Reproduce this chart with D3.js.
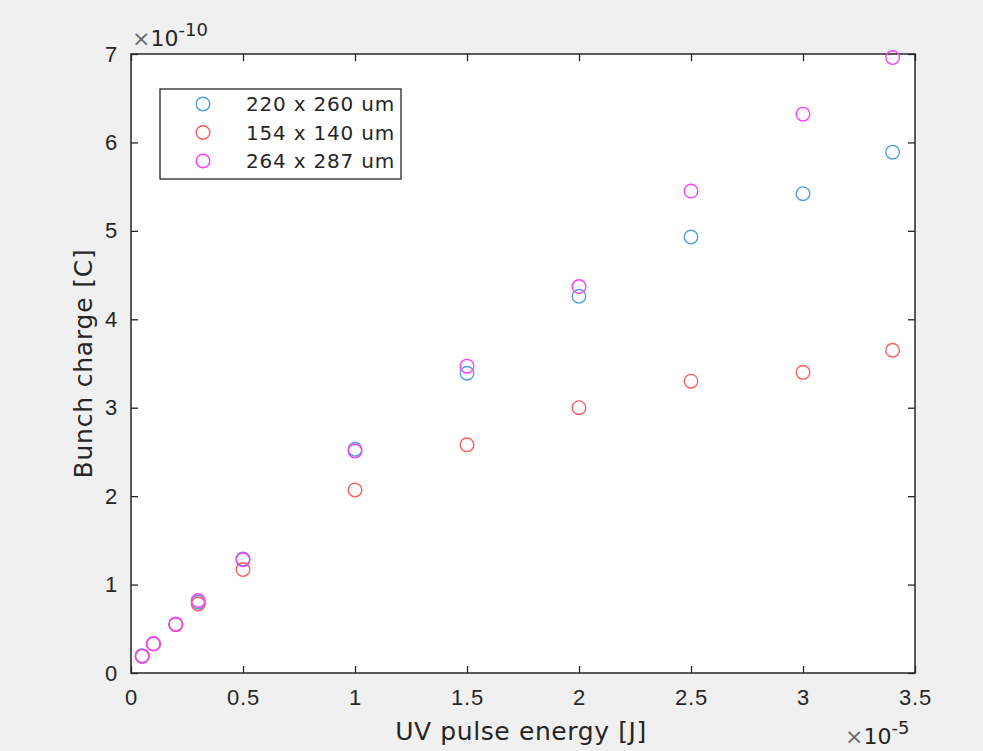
<!DOCTYPE html>
<html>
<head>
<meta charset="utf-8">
<script src="https://cdn.jsdelivr.net/npm/d3@7"></script>
<style>
  html, body { margin: 0; padding: 0; background: #f0f0f0; }
  svg { display: block; font-family: "DejaVu Sans", sans-serif; }
</style>
</head>
<body>
<svg id="chart" width="983" height="751"></svg>
<script>
// UV pulse energy [J] for each measurement
const energy = [0.05e-5, 0.1e-5, 0.2e-5, 0.3e-5, 0.5e-5, 1.0e-5, 1.5e-5, 2.0e-5, 2.5e-5, 3.0e-5, 3.4e-5];

// Bunch charge [C] per laser spot size
const charge220x260 = [0.196e-10, 0.33e-10, 0.55e-10, 0.80e-10, 1.29e-10, 2.53e-10, 3.39e-10, 4.26e-10, 4.93e-10, 5.42e-10, 5.89e-10];
const charge154x140 = [0.19e-10, 0.33e-10, 0.55e-10, 0.78e-10, 1.17e-10, 2.07e-10, 2.58e-10, 3.00e-10, 3.30e-10, 3.40e-10, 3.65e-10];
const charge264x287 = [0.19e-10, 0.33e-10, 0.55e-10, 0.82e-10, 1.28e-10, 2.51e-10, 3.47e-10, 4.37e-10, 5.45e-10, 6.32e-10, 6.96e-10];

const seriesNames = ["220 x 260 um", "154 x 140 um", "264 x 287 um"];
const seriesColors = ["#4f9fdc", "#ff5c5c", "#ff3cff"];

const xTicks = [0, 0.5e-5, 1.0e-5, 1.5e-5, 2.0e-5, 2.5e-5, 3.0e-5, 3.5e-5];
const yTicks = [0, 1e-10, 2e-10, 3e-10, 4e-10, 5e-10, 6e-10, 7e-10];
const xExponent = -5;
const yExponent = -10;

const series = [charge220x260, charge154x140, charge264x287].map((vals, i) => ({
  name: seriesNames[i],
  color: seriesColors[i],
  points: vals.map((v, j) => ({ x: energy[j], y: v }))
}));

const W = 983, H = 751;
const margin = { left: 131, top: 54, right: 68, bottom: 78 };
const iw = W - margin.left - margin.right;
const ih = H - margin.top - margin.bottom;
const axisColor = "#262626";
const textColor = "#262626";

const svg = d3.select("#chart");
svg.append("rect").attr("width", W).attr("height", H).attr("fill", "#f0f0f0");

const g = svg.append("g").attr("transform", `translate(${margin.left},${margin.top})`);

const x = d3.scaleLinear().domain([0, 3.5e-5]).range([0, iw]);
const y = d3.scaleLinear().domain([0, 7e-10]).range([ih, 0]);

// white axes area
g.append("rect").attr("width", iw).attr("height", ih).attr("fill", "#ffffff");

const fmtX = d => d3.format("~g")(+(d / Math.pow(10, xExponent)).toFixed(6));
const fmtY = d => d3.format("~g")(+(d / Math.pow(10, yExponent)).toFixed(6));

const tickLen = 7;

function styleAxis(sel, showLabels) {
  sel.select(".domain").remove();
  sel.selectAll(".tick line").attr("stroke", axisColor).attr("stroke-width", 1.3);
  sel.selectAll(".tick text")
    .attr("fill", textColor)
    .style("font-size", "22px")
    .style("letter-spacing", "0.8px");
  if (!showLabels) sel.selectAll(".tick text").remove();
}

// bottom and top x axes (ticks point inward)
g.append("g").attr("transform", `translate(0,${ih})`)
  .call(d3.axisBottom(x).tickValues(xTicks).tickFormat(fmtX).tickSizeInner(-tickLen).tickPadding(16))
  .call(s => styleAxis(s, true));
g.append("g")
  .call(d3.axisTop(x).tickValues(xTicks).tickSizeInner(-tickLen))
  .call(s => styleAxis(s, false));

// left and right y axes
g.append("g")
  .call(d3.axisLeft(y).tickValues(yTicks).tickFormat(fmtY).tickSizeInner(-tickLen).tickPadding(13))
  .call(s => styleAxis(s, true));
g.append("g").attr("transform", `translate(${iw},0)`)
  .call(d3.axisRight(y).tickValues(yTicks).tickSizeInner(-tickLen))
  .call(s => styleAxis(s, false));

// axes box
g.append("rect").attr("width", iw).attr("height", ih)
  .attr("fill", "none").attr("stroke", axisColor).attr("stroke-width", 1.5);

// scatter markers
series.forEach(s => {
  g.append("g").selectAll("circle").data(s.points).join("circle")
    .attr("cx", d => x(d.x))
    .attr("cy", d => y(d.y))
    .attr("r", 6.8)
    .attr("fill", "none")
    .attr("stroke", s.color)
    .attr("stroke-width", 1.4);
});

// axis labels
svg.append("text")
  .attr("x", margin.left + iw / 2 - 2).attr("y", 740)
  .attr("text-anchor", "middle")
  .attr("fill", textColor)
  .style("font-size", "25px").style("letter-spacing", "0.6px")
  .text("UV pulse energy [J]");

svg.append("text")
  .attr("transform", `translate(92,${margin.top + ih / 2}) rotate(-90)`)
  .attr("text-anchor", "middle")
  .attr("fill", textColor)
  .style("font-size", "25px").style("letter-spacing", "0.8px")
  .text("Bunch charge [C]");

// exponent multipliers
function exponentLabel(xPos, yPos, exp) {
  const t = svg.append("text").attr("x", xPos).attr("y", yPos)
    .attr("fill", textColor).style("font-size", "22px");
  t.append("tspan").attr("fill", "#6a6a6a").text("\u00d7");
  t.append("tspan").text("10");
  t.append("tspan").attr("dy", -10).style("font-size", "18px").text(String(exp));
}
exponentLabel(132, 46, yExponent);
exponentLabel(845, 744, xExponent);

// legend
const lg = svg.append("g").attr("transform", "translate(160,89)");
lg.append("rect").attr("width", 241).attr("height", 90)
  .attr("fill", "#ffffff").attr("stroke", axisColor).attr("stroke-width", 1.3);
series.forEach((s, i) => {
  const cy = 15 + i * 28.5;
  lg.append("circle").attr("cx", 43).attr("cy", cy).attr("r", 6.8)
    .attr("fill", "none").attr("stroke", s.color).attr("stroke-width", 1.4);
  lg.append("text").attr("x", 86).attr("y", cy + 7)
    .attr("fill", textColor)
    .style("font-size", "20px").style("letter-spacing", "0.8px")
    .text(s.name);
});
</script>
</body>
</html>
